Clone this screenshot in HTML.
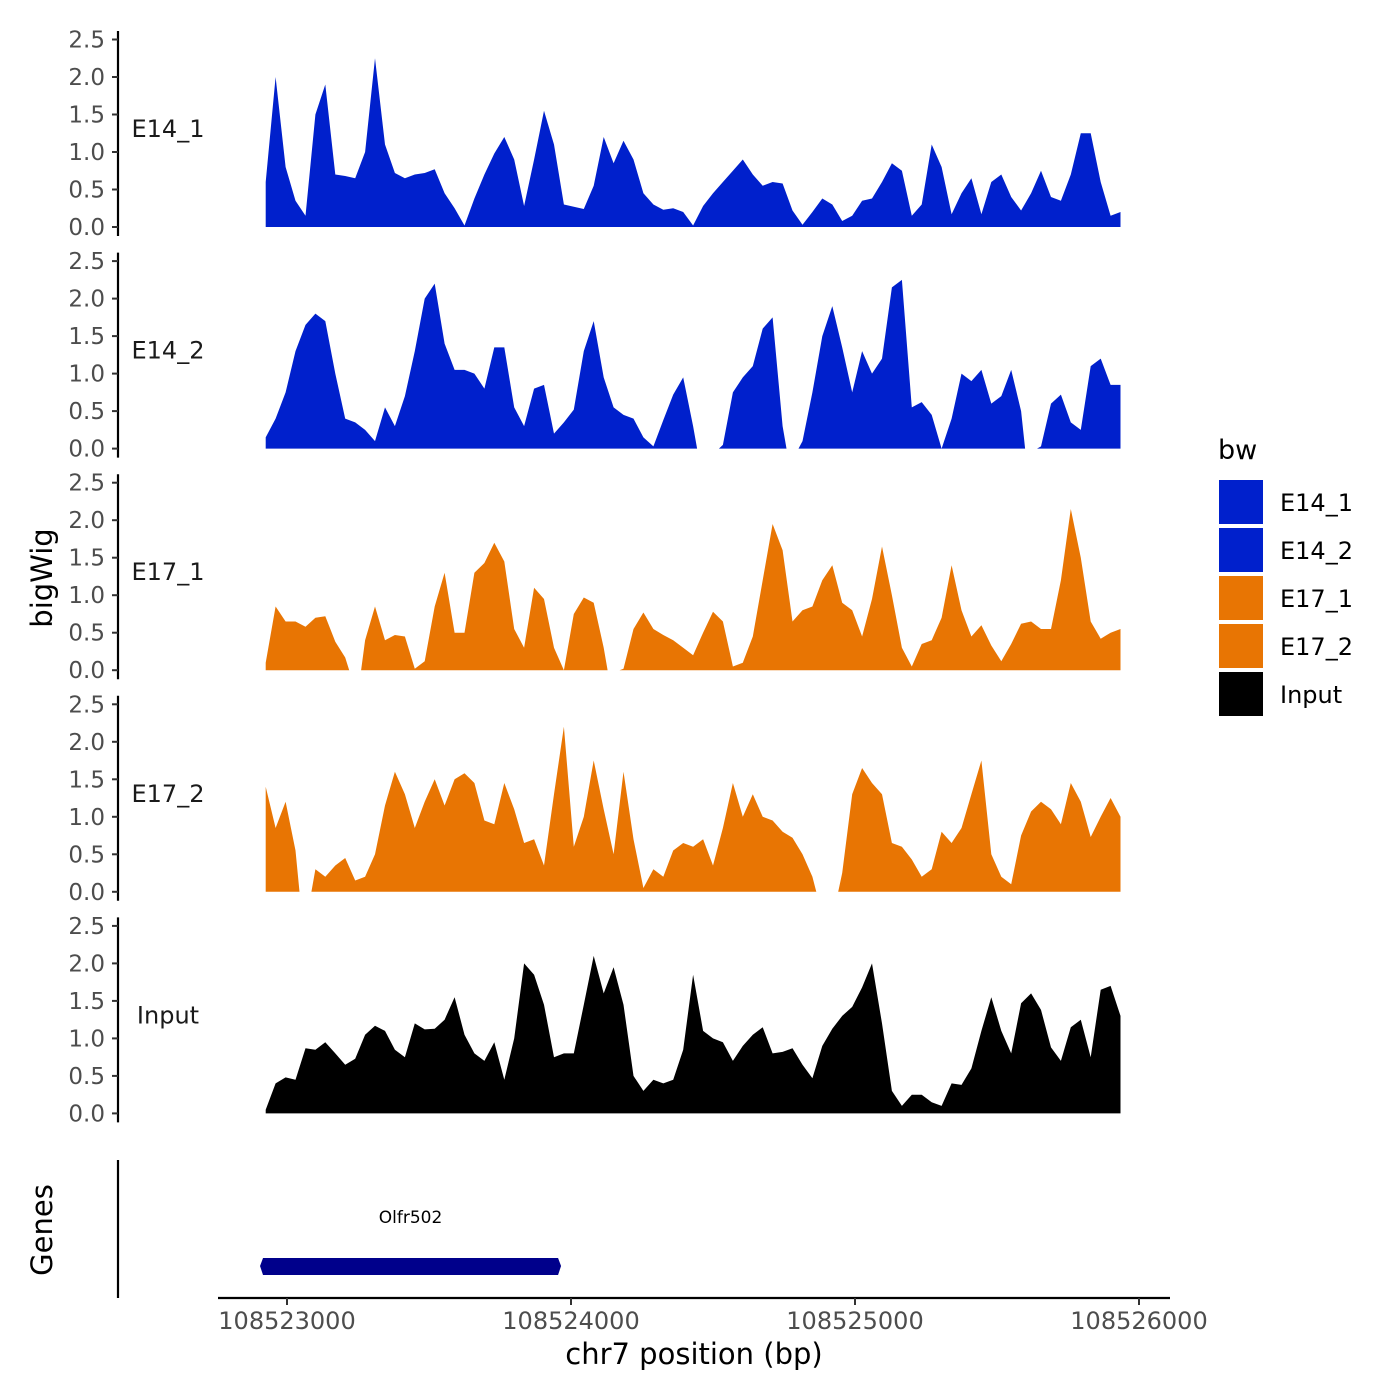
<!DOCTYPE html>
<html><head><meta charset="utf-8">
<style>
html,body{margin:0;padding:0;background:#fff;}
svg{display:block;font-family:"DejaVu Sans","Liberation Sans",sans-serif;}
</style></head>
<body>
<svg id="chart" width="1400" height="1400" viewBox="0 0 1400 1400" xmlns="http://www.w3.org/2000/svg">
<rect width="1400" height="1400" fill="#fff"/>
<g id="panels"></g>
<text x="52" y="578" font-size="29" text-anchor="middle" transform="rotate(-90 52 578)">bigWig</text>
<text x="52" y="1230" font-size="29" text-anchor="middle" transform="rotate(-90 52 1230)">Genes</text>
<line x1="118" y1="1160" x2="118" y2="1298" stroke="#000" stroke-width="2.2"/>
<g id="genes"></g>
<line x1="218" y1="1298" x2="1170" y2="1298" stroke="#000" stroke-width="2.2"/>
<g id="xticks"></g>
<text x="694" y="1364" font-size="29" text-anchor="middle">chr7 position (bp)</text>
<g id="legend">
<text x="1218" y="459" font-size="27">bw</text>
</g>
</svg>
<script>
const trackNames = ["E14_1","E14_2","E17_1","E17_2","Input"];
const trackColors = ["#0020CC","#0020CC","#E87503","#E87503","#000000"];
const binStart = 108522925;
const binStep = 35;
const e14_1 = [0.6,2.0,0.8,0.35,0.15,1.5,1.9,0.7,0.68,0.65,1.0,2.25,1.1,0.72,0.65,0.7,0.72,0.77,0.45,0.25,0.02,0.38,0.7,0.98,1.2,0.9,0.28,0.9,1.55,1.1,0.3,0.27,0.24,0.55,1.2,0.85,1.15,0.9,0.45,0.3,0.23,0.25,0.2,0.02,0.28,0.45,0.6,0.75,0.9,0.7,0.55,0.6,0.58,0.22,0.03,0.2,0.38,0.3,0.08,0.15,0.35,0.38,0.6,0.85,0.75,0.15,0.3,1.1,0.8,0.17,0.45,0.65,0.17,0.6,0.7,0.4,0.22,0.45,0.75,0.4,0.35,0.7,1.25,1.25,0.6,0.15,0.2];
const e14_2 = [0.15,0.4,0.75,1.3,1.65,1.8,1.7,1.0,0.4,0.35,0.25,0.1,0.55,0.3,0.7,1.3,2.0,2.2,1.4,1.05,1.05,1.0,0.8,1.35,1.35,0.55,0.3,0.8,0.85,0.2,0.35,0.52,1.3,1.7,0.95,0.55,0.45,0.4,0.15,0.03,0.38,0.72,0.95,0.3,null,null,0.05,0.75,0.95,1.1,1.6,1.75,0.3,null,0.1,0.75,1.5,1.9,1.35,0.75,1.3,1.0,1.2,2.15,2.25,0.55,0.62,0.45,0.0,0.4,1.0,0.9,1.05,0.6,0.7,1.05,0.5,null,0.03,0.6,0.72,0.35,0.25,1.1,1.2,0.85,0.85];
const e17_1 = [0.1,0.85,0.65,0.65,0.58,0.7,0.72,0.38,0.17,null,0.4,0.85,0.4,0.47,0.45,0.02,0.12,0.85,1.3,0.5,0.5,1.3,1.43,1.7,1.45,0.55,0.3,1.1,0.95,0.3,0.0,0.75,0.97,0.9,0.3,null,0.02,0.55,0.77,0.55,0.47,0.4,0.3,0.2,0.5,0.78,0.65,0.05,0.1,0.45,1.2,1.95,1.6,0.65,0.8,0.85,1.2,1.4,0.9,0.8,0.45,0.95,1.65,1.0,0.3,0.05,0.35,0.4,0.7,1.4,0.8,0.45,0.6,0.33,0.12,0.35,0.62,0.65,0.55,0.55,1.2,2.15,1.5,0.65,0.42,0.5,0.55];
const e17_2 = [1.4,0.85,1.2,0.55,null,0.3,0.2,0.35,0.45,0.15,0.2,0.5,1.15,1.6,1.3,0.85,1.2,1.5,1.15,1.5,1.58,1.45,0.95,0.9,1.45,1.1,0.65,0.7,0.35,1.3,2.2,0.6,1.0,1.75,1.1,0.5,1.6,0.7,0.05,0.3,0.2,0.55,0.65,0.6,0.7,0.35,0.85,1.45,1.0,1.3,1.0,0.95,0.8,0.72,0.5,0.2,null,null,0.25,1.3,1.65,1.45,1.3,0.65,0.6,0.43,0.2,0.3,0.8,0.65,0.85,1.3,1.75,0.5,0.2,0.1,0.75,1.07,1.2,1.1,0.9,1.45,1.2,0.73,1.0,1.25,1.0];
const input = [0.05,0.4,0.48,0.45,0.87,0.85,0.95,0.8,0.65,0.73,1.05,1.17,1.1,0.85,0.75,1.2,1.12,1.13,1.25,1.55,1.05,0.8,0.7,0.95,0.45,1.0,2.0,1.85,1.45,0.75,0.8,0.8,1.45,2.1,1.6,1.95,1.45,0.5,0.3,0.45,0.4,0.45,0.85,1.85,1.1,1.0,0.95,0.7,0.9,1.05,1.15,0.8,0.82,0.87,0.65,0.47,0.9,1.13,1.3,1.42,1.68,2.0,1.2,0.3,0.1,0.25,0.25,0.15,0.1,0.4,0.38,0.6,1.1,1.55,1.1,0.8,1.47,1.6,1.38,0.88,0.7,1.15,1.25,0.75,1.65,1.7,1.3];
const trackValues = [e14_1,e14_2,e17_1,e17_2,input];
const yTicks = [0,0.5,1,1.5,2,2.5];
const yTickLabels = ["0.0","0.5","1.0","1.5","2.0","2.5"];
const xTicks = [108523000,108524000,108525000,108526000];
const geneName = "Olfr502";
const geneStart = 108522905;
const geneEnd = 108523965;

const NS="http://www.w3.org/2000/svg";
function el(tag,attrs,parent){const e=document.createElementNS(NS,tag);for(const k in attrs)e.setAttribute(k,attrs[k]);parent.appendChild(e);return e;}
function xScale(bp){return 287+(bp-108523000)*0.284;}
const panelTop0=31, panelH=221.6;
function yScale(v,p){const base=227+p*221.6;return base-v*75;}

const panels=document.getElementById('panels');
trackNames.forEach((name,p)=>{
  const g=el('g',{},panels);
  
  
  const top=panelTop0+p*panelH;
  const ax=el('line',{x1:118,y1:top,x2:118,y2:top+205,stroke:'#000','stroke-width':2.2},g);
  
  
  yTicks.forEach((t,i)=>{
    const y=yScale(t,p);
    const tk=el('line',{x1:112,y1:y,x2:118,y2:y,stroke:'#333','stroke-width':2},g);
    
    
    const tl=el('text',{x:105,y:y+8,'font-size':23,'text-anchor':'end',fill:'#4d4d4d'},g);
    tl.textContent=yTickLabels[i];
    
    
  });
  const lab=el('text',{x:168,y:yScale(1.2,p),'font-size':24,'text-anchor':'middle',fill:'#1a1a1a'},g);
  lab.textContent=name;
  
  
  const vals=trackValues[p];
  const base=yScale(0,p);
  let run=[];
  const flush=()=>{
    if(run.length){
      let d='M'+run[0][0].toFixed(1)+','+base;
      run.forEach(pt=>{d+=' L'+pt[0].toFixed(1)+','+pt[1].toFixed(1);});
      d+=' L'+run[run.length-1][0].toFixed(1)+','+base+' Z';
      const a=el('path',{d:d,fill:trackColors[p]},g);
      
      
    }
    run=[];
  };
  vals.forEach((v,i)=>{
    const x=xScale(binStart+binStep*i);
    if(v===null){
      if(run.length) run.push([x-6,base]);
      flush();
      return;
    }
    if(!run.length && i>0 && vals[i-1]===null) run.push([x-4,base]);
    run.push([x,yScale(v,p)]);
  });
  flush();
});

const genes=document.getElementById('genes');
const gx1=xScale(geneStart), gx2=xScale(geneEnd);
const gr=el('path',{d:`M${gx1},1266 L${gx1+3},1258 L${gx2-3},1258 L${gx2},1266 L${gx2-3},1275 L${gx1+3},1275 Z`,fill:'#00008B'},genes);


const gl=el('text',{x:(gx1+gx2)/2,y:1223,'font-size':17,'text-anchor':'middle',fill:'#000'},genes);
gl.textContent=geneName;



const xt=document.getElementById('xticks');
xTicks.forEach(t=>{
  const x=xScale(t);
  const l=el('line',{x1:x,y1:1298,x2:x,y2:1305,stroke:'#333','stroke-width':2},xt);
  
  
  const tx=el('text',{x:x,y:1329,'font-size':24,'text-anchor':'middle',fill:'#4d4d4d'},xt);
  tx.textContent=String(t);
  
  
});

const lg=document.getElementById('legend');
trackNames.forEach((name,i)=>{
  const y=480+i*48;
  const r=el('rect',{x:1219,y:y,width:44,height:44,fill:trackColors[i]},lg);
  
  
  const t=el('text',{x:1280,y:y+31,'font-size':24,fill:'#000'},lg);
  t.textContent=name;
  
  
});
</script>
</body></html>
